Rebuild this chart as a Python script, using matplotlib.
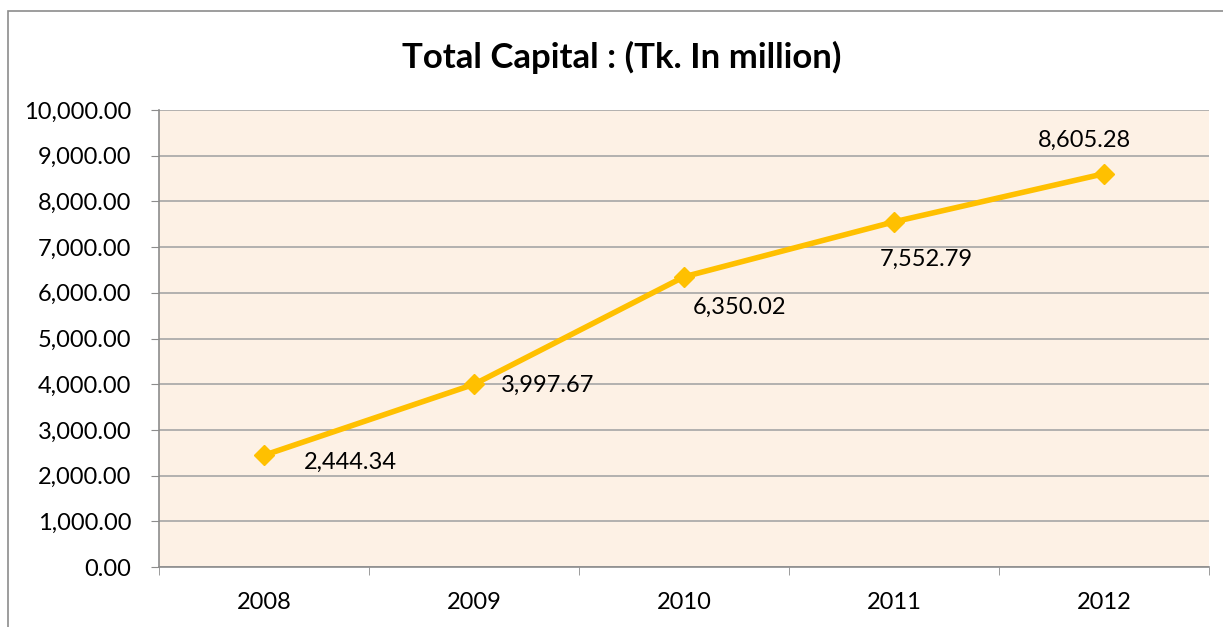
import matplotlib
matplotlib.use("Agg")
import matplotlib.pyplot as plt
from matplotlib.patches import Rectangle
from matplotlib.ticker import FuncFormatter, FixedLocator

years = ["2008", "2009", "2010", "2011", "2012"]
capital = [2444.34, 3997.67, 6350.02, 7552.79, 8605.28]
# label offsets in points (dx, dy)
label_offsets = [(62, -5), (53, -1), (40, -22), (23, -27), (-14, 24)]

plt.rcParams['font.family'] = ['Lato', 'DejaVu Sans']

fig = plt.figure(figsize=(12.23, 6.27), dpi=100)
fig.patches.append(Rectangle((8/1223, -0.1), 1.2, (627-11)/627 + 0.1,
                             transform=fig.transFigure, fill=False,
                             edgecolor='#8c8c8c', linewidth=1.2))

ax = fig.add_axes([159/1223, (627-567)/627, (1209-159)/1223, (567-110)/627])
ax.set_facecolor('#FDF1E5')

x = list(range(len(years)))
ax.plot(x, capital, color='#FFC000', linewidth=4.0, marker='D', markersize=10,
        markeredgecolor='#FFC000', zorder=3)
for xi, v, (dx, dy) in zip(x, capital, label_offsets):
    ax.annotate(f"{v:,.2f}", (xi, v), xytext=(dx, dy), textcoords='offset points',
                ha='center', va='center', fontsize=17, color='#000000')

ax.set_xlim(-0.5, 4.5)
ax.set_ylim(0, 10000)
ax.set_yticks(range(0, 10001, 1000))
ax.yaxis.set_major_formatter(FuncFormatter(lambda v, p: f"{v:,.2f}"))
ax.set_xticks(x)
ax.set_xticklabels(years)
ax.xaxis.set_minor_locator(FixedLocator([-0.5, 0.5, 1.5, 2.5, 3.5, 4.5]))
ax.tick_params(axis='x', which='major', length=0, pad=18, labelsize=17)
ax.tick_params(axis='x', which='minor', length=6, color='#8c8c8c')
ax.tick_params(axis='y', length=6, color='#8c8c8c', labelsize=17, pad=14)
ax.grid(axis='y', color='#a6a6a6', linewidth=1.2)
ax.set_axisbelow(True)
for s in ['top', 'right']:
    ax.spines[s].set_visible(False)
for s in ['left', 'bottom']:
    ax.spines[s].set_color('#8c8c8c')
    ax.spines[s].set_linewidth(1.2)

fig.text(622/1223, 1 - 57/627, "Total Capital : (Tk. In million)", ha='center', va='center',
         fontsize=25, fontweight='bold')

fig.savefig("out.png", dpi=100)
